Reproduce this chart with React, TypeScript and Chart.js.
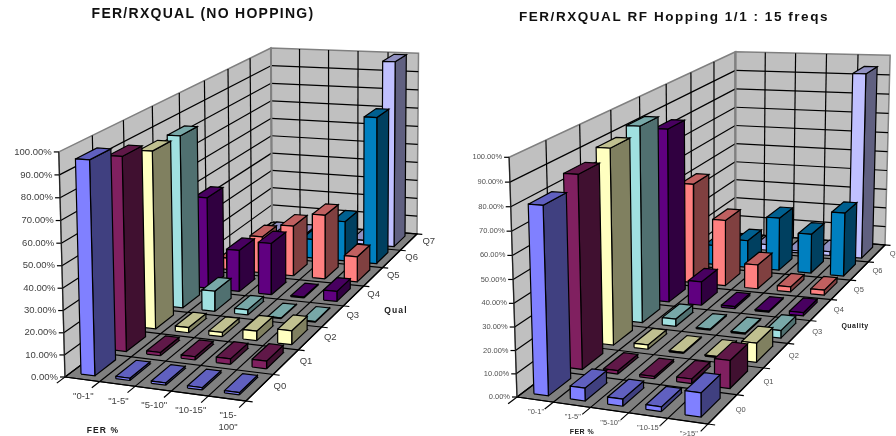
import React, { useEffect, useRef } from "react";
import { Chart, registerables } from "chart.js";

Chart.register(...registerables);

const valueTicks = ["0.00%", "10.00%", "20.00%", "30.00%", "40.00%", "50.00%", "60.00%", "70.00%", "80.00%", "90.00%", "100.00%"];
const qualityRows = ["Q0", "Q1", "Q2", "Q3", "Q4", "Q5", "Q6", "Q7"];

const leftCategories = ['"0-1"', '"1-5"', '"5-10"', '"10-15"', ['"15-', '100"']];
const leftQ0 = [96, 1, 1, 1, 1];
const leftQ1 = [90, 1.5, 1.5, 2.5, 3.5];
const leftQ2 = [85, 2.5, 2, 4.5, 6.5];
const leftQ3 = [85, 10, 2.5, 0.3, 0.3];
const leftQ4 = [46.5, 21, 26, 0.5, 5];
const leftQ5 = [6, 19, 26, 33, 13];
const leftQ6 = [1, 1, 10, 21, 77];
const leftQ7 = [2, 2, 1, 2, 100];

const rightCategories = ['"0-1"', '"1-5"', '"5-10"', '"10-15"', '">15"'];
const rightQ0 = [80, 5.5, 3, 2, 10];
const rightQ1 = [85, 1.5, 1, 2, 12];
const rightQ2 = [89, 2, 0.5, 0.5, 8.5];
const rightQ3 = [92, 3.5, 0.5, 0.5, 3.5];
const rightQ4 = [84, 11.5, 1, 0.5, 1.5];
const rightQ5 = [50, 33, 12, 2.5, 2.5];
const rightQ6 = [10, 14, 27, 20, 32];
const rightQ7 = [1, 3, 1, 2, 95];

const faceColours = [
  ["#8080FF", "#6060C0", "#404080"],
  ["#802060", "#601848", "#401030"],
  ["#FFFFC0", "#C0C090", "#808060"],
  ["#A0E0E0", "#78A8A8", "#507070"],
  ["#600080", "#480060", "#300040"],
  ["#FF8080", "#C06060", "#804040"],
  ["#0080C0", "#006090", "#004060"],
  ["#C0C0FF", "#9090C0", "#606080"],
];

type P = [number, number];

function solve3(m: number[][], r: number[]) {
  const A = m.map((row, i) => [...row, r[i]]);
  for (let i = 0; i < 3; i++) {
    let piv = i;
    for (let j = i + 1; j < 3; j++) if (Math.abs(A[j][i]) > Math.abs(A[piv][i])) piv = j;
    [A[i], A[piv]] = [A[piv], A[i]];
    for (let j = 0; j < 3; j++) {
      if (j === i) continue;
      const k = A[j][i] / A[i][i];
      for (let l = i; l < 4; l++) A[j][l] -= k * A[i][l];
    }
  }
  return [A[0][3] / A[0][0], A[1][3] / A[1][1], A[2][3] / A[2][2]];
}

function makeProjection(p000: P, p100: P, p110: P, p010: P, p001: P, p011: P, p111: P) {
  const [x0, y0] = p000, [x1, y1] = p100, [x2, y2] = p110, [x3, y3] = p010;
  const dx1 = x1 - x2, dx2 = x3 - x2, sx = x0 - x1 + x2 - x3;
  const dy1 = y1 - y2, dy2 = y3 - y2, sy = y0 - y1 + y2 - y3;
  const den = dx1 * dy2 - dx2 * dy1;
  const g = (sx * dy2 - dx2 * sy) / den;
  const h = (dx1 * sy - sx * dy1) / den;
  const a = x1 - x0 + g * x1, b = x3 - x0 + h * x3;
  const d = y1 - y0 + g * y1, e = y3 - y0 + h * y3;
  // Least squares for the height column from the three known top corners.
  const rows: number[][] = [];
  const rhs: number[] = [];
  const tops: [number, number, P][] = [[0, 0, p001], [0, 1, p011], [1, 1, p111]];
  for (const [u, v, q] of tops) {
    const base = g * u + h * v + 1;
    rows.push([1, 0, -q[0]]);
    rhs.push(q[0] * base - (a * u + b * v + x0));
    rows.push([0, 1, -q[1]]);
    rhs.push(q[1] * base - (d * u + e * v + y0));
  }
  const N = [0, 1, 2].map((i) => [0, 1, 2].map((j) => rows.reduce((s, r) => s + r[i] * r[j], 0)));
  const R = [0, 1, 2].map((i) => rows.reduce((s, r, k) => s + r[i] * rhs[k], 0));
  const [cx, cy, cw] = solve3(N, R);
  return (u: number, v: number, t: number): P => {
    const w = g * u + h * v + cw * t + 1;
    return [(a * u + b * v + cx * t + x0) / w, (d * u + e * v + cy * t + y0) / w];
  };
}

interface Spec {
  title: string;
  titleX: number;
  titleY: number;
  titleFont: string;
  titleSpacing: string;
  rows: number[][];
  categories: (string | string[])[];
  corners: P[];
  originX: number;
  tickFont: string;
  tickColour: string;
  axisFont: string;
  axisSpacing: string;
  xLabelDrop: number;
  qualLabel: [string, number, number];
  ferLabel: [string, number, number];
  qOffset: P;
}

const leftSpec: Spec = {
  title: "FER/RXQUAL (NO HOPPING)", titleX: 203, titleY: 14, titleFont: "bold 14px 'Liberation Sans'", titleSpacing: "1.27px",
  rows: [leftQ0, leftQ1, leftQ2, leftQ3, leftQ4, leftQ5, leftQ6, leftQ7],
  categories: leftCategories,
  corners: [[65, 377], [246, 401], [417, 234], [272, 222], [58, 151], [272, 47], [418, 55]],
  originX: 0, tickFont: "9.5px 'Liberation Sans'", tickColour: "#404040", axisFont: "bold 8.5px 'Liberation Sans'", axisSpacing: "1.1px",
  xLabelDrop: 17, qualLabel: ["Qual", 396, 311], ferLabel: ["FER %", 103, 431], qOffset: [20, -1],
};
const rightSpec: Spec = {
  title: "FER/RXQUAL RF Hopping 1/1 : 15 freqs", titleX: 674, titleY: 17, titleFont: "bold 13.5px 'Liberation Sans'", titleSpacing: "1.55px",
  rows: [rightQ0, rightQ1, rightQ2, rightQ3, rightQ4, rightQ5, rightQ6, rightQ7],
  categories: rightCategories,
  corners: [[517, 397], [708, 424], [885, 245], [735, 233], [510, 159], [735, 48], [890, 58]],
  originX: 448, tickFont: "7.5px 'Liberation Sans'", tickColour: "#505050", axisFont: "bold 7px 'Liberation Sans'", axisSpacing: "0.5px",
  xLabelDrop: 12.5, qualLabel: ["Quality", 855, 326], ferLabel: ["FER %", 582, 432], qOffset: [18, 0.5],
};

function buildDatasets(spec: Spec) {
  const c = spec.corners;
  const pr = makeProjection(c[0], c[1], c[2], c[3], c[4], c[5], c[6]);
  const nC = spec.categories.length, nQ = spec.rows.length;
  const sets: any[] = [];
  const add = (pts: P[], fill: string | null, stroke: string, width: number) => {
    sets.push({
      type: "scatter",
      data: pts.map(([x, y]) => ({ x, y })),
      showLine: true,
      fill: fill ? "shape" : false,
      backgroundColor: fill ?? "transparent",
      borderColor: stroke,
      borderWidth: width,
      pointRadius: 0,
      borderJoinStyle: "miter",
    });
  };
  const poly = (q: [number, number, number][], fill: string | null, stroke: string, width: number) => {
    const pts = q.map((k) => pr(k[0], k[1], k[2]));
    add([...pts, pts[0]], fill, stroke, width);
  };
  const seg = (s: [number, number, number], t: [number, number, number], stroke: string, width: number) => {
    add([pr(...s), pr(...t)], null, stroke, width);
  };
  // walls
  poly([[0, 0, 0], [0, 1, 0], [0, 1, 1], [0, 0, 1]], "#C0C0C0", "#808080", 1.5);
  poly([[0, 1, 0], [1, 1, 0], [1, 1, 1], [0, 1, 1]], "#C0C0C0", "#808080", 1.5);
  for (let i = 1; i < valueTicks.length - 1; i++) {
    const t = i / (valueTicks.length - 1);
    seg([0, 0, t], [0, 1, t], "#000000", 1.2);
    seg([0, 1, t], [1, 1, t], "#000000", 1.2);
  }
  for (let i = 1; i < nQ; i++) seg([0, i / nQ, 0], [0, i / nQ, 1], "#000000", 1.2);
  for (let i = 1; i < nC; i++) seg([i / nC, 1, 0], [i / nC, 1, 1], "#000000", 1.2);
  // floor
  poly([[0, 0, 0], [1, 0, 0], [1, 1, 0], [0, 1, 0]], "#808080", "#000000", 1.2);
  for (let i = 0; i <= nQ; i++) seg([0, i / nQ, 0], [1.035, i / nQ, 0], "#000000", 1.2);
  for (let i = 0; i <= nC; i++) seg([i / nC, -0.03, 0], [i / nC, 1, 0], "#000000", 1.2);
  // value axis ticks
  for (let i = 0; i < valueTicks.length; i++) {
    const t = i / (valueTicks.length - 1);
    const p = pr(0, 0, t);
    add([[p[0] - 5, p[1]], p], null, "#000000", 1.2);
  }
  seg([0, 0, 0], [0, 0, 1], "#202020", 1.2);
  seg([0, 1, 0], [0, 1, 1], "#808080", 2);
  // bars back to front
  const gapU = 0.3, frontV = 0.17, backV = 0.82;
  for (let r = nQ - 1; r >= 0; r--) {
    const colours = faceColours[r];
    for (let k = 0; k < nC; k++) {
      const value = spec.rows[r][k];
      const t = value / 100;
      const u0 = (k + gapU) / nC, u1 = (k + 1 - gapU) / nC;
      const v0 = (r + frontV) / nQ, v1 = (r + backV) / nQ;
      poly([[u1, v0, 0], [u1, v1, 0], [u1, v1, t], [u1, v0, t]], colours[2], "#000000", 1.2);
      poly([[u0, v0, t], [u1, v0, t], [u1, v1, t], [u0, v1, t]], colours[1], "#000000", 1.2);
      poly([[u0, v0, 0], [u1, v0, 0], [u1, v0, t], [u0, v0, t]], colours[0], "#000000", 1.2);
    }
  }
  // Chart.js paints the first dataset last.
  return { sets: sets.reverse(), pr };
}

function makeConfig(spec: Spec) {
  const { sets, pr } = buildDatasets(spec);
  const nC = spec.categories.length, nQ = spec.rows.length;
  const textPlugin = {
    id: "labels3d",
    afterDraw(chart: any) {
      const ctx = chart.ctx;
      ctx.save();
      ctx.translate(-spec.originX, 0);
      ctx.textBaseline = "middle";
      ctx.fillStyle = "#101010";
      ctx.font = spec.titleFont;
      ctx.textAlign = "center";
      ctx.letterSpacing = spec.titleSpacing;
      ctx.fillText(spec.title, spec.titleX, spec.titleY);
      ctx.letterSpacing = "0px";
      ctx.font = spec.tickFont;
      ctx.fillStyle = spec.tickColour;
      ctx.textAlign = "right";
      valueTicks.forEach((label, i) => {
        const p = pr(0, 0, i / (valueTicks.length - 1));
        ctx.fillText(label, p[0] - 7, p[1]);
      });
      ctx.textAlign = "center";
      spec.categories.forEach((label, i) => {
        const p = pr((i + 0.5) / nC, 0, 0);
        const lines = Array.isArray(label) ? label : [label];
        lines.forEach((line, j) => ctx.fillText(line, p[0] + 1, p[1] + spec.xLabelDrop + j * 12));
      });
      qualityRows.slice(0, nQ).forEach((label, i) => {
        const p = pr(1, (i + 0.5) / nQ, 0);
        ctx.fillText(label, p[0] + spec.qOffset[0], p[1] + spec.qOffset[1]);
      });
      ctx.font = spec.axisFont;
      ctx.fillStyle = "#202020";
      ctx.letterSpacing = spec.axisSpacing;
      ctx.fillText(spec.qualLabel[0], spec.qualLabel[1], spec.qualLabel[2]);
      ctx.fillText(spec.ferLabel[0], spec.ferLabel[1], spec.ferLabel[2]);
      ctx.restore();
    },
  };
  return {
    type: "scatter" as const,
    data: { datasets: sets },
    plugins: [textPlugin],
    options: {
      animation: false as const,
      responsive: false,
      layout: { padding: 0 },
      plugins: { legend: { display: false }, tooltip: { enabled: false }, title: { display: false } },
      scales: {
        x: { type: "linear" as const, display: false, min: spec.originX, max: spec.originX + 448 },
        y: { type: "linear" as const, display: false, min: 0, max: 436, reverse: true },
      },
    },
  };
}

function Panel({ spec }: { spec: Spec }) {
  const ref = useRef<HTMLCanvasElement | null>(null);
  useEffect(() => {
    const chart = new Chart(ref.current as HTMLCanvasElement, makeConfig(spec) as any);
    return () => chart.destroy();
  }, [spec]);
  return <canvas ref={ref} width={448} height={436} style={{ display: "block", width: 448, height: 436 }} />;
}

export default function App() {
  return (
    <div style={{ position: "absolute", left: 0, top: 0, width: 896, height: 436, display: "flex", background: "#fff", overflow: "hidden" }}>
      <Panel spec={leftSpec} />
      <Panel spec={rightSpec} />
    </div>
  );
}
